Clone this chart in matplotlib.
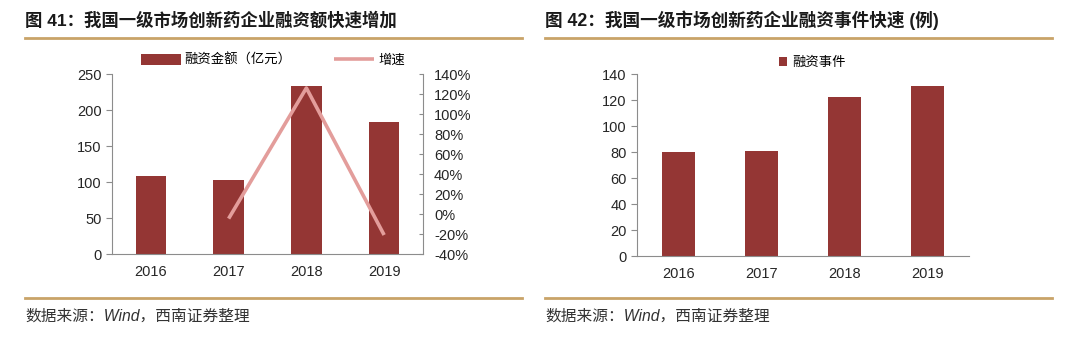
import numpy as np
import matplotlib
matplotlib.use("Agg")
import matplotlib.pyplot as plt
from matplotlib.lines import Line2D
from matplotlib.ticker import FuncFormatter

plt.rcParams['font.family'] = ['Liberation Sans', 'Noto Sans CJK SC', 'DejaVu Sans']

years = ['2016', '2017', '2018', '2019']
amount = [108, 103, 233, 184]            # 融资金额（亿元）
growth = [np.nan, -4.6, 126, -21]        # 增速 (%)
events = [80, 81, 122, 131]              # 融资事件

left_ticks = [0, 50, 100, 150, 200, 250]
right_ticks = [-40, -20, 0, 20, 40, 60, 80, 100, 120, 140]
event_ticks = [0, 20, 40, 60, 80, 100, 120, 140]

BAR = '#943634'
LINE = '#E39D9B'
GOLD = '#C9A368'
SPINE = '#8C8C8C'
TXT = '#262626'

W, H = 1080, 340
fig = plt.figure(figsize=(W / 100, H / 100), dpi=100)
fig.patch.set_facecolor('white')

def fx(px):
    return px / W

def fy(py):
    return 1 - py / H

# Titles
fig.text(fx(25), fy(20), '图 41：我国一级市场创新药企业融资额快速增加', fontsize=12.5,
         fontweight='bold', color='#1a1a1a', va='center', ha='left')
fig.text(fx(545), fy(20), '图 42：我国一级市场创新药企业融资事件快速 (例)', fontsize=12.7,
         fontweight='bold', color='#1a1a1a', va='center', ha='left')

# Gold separator lines
for (x0, x1) in [(25, 522), (545, 1052)]:
    for yy in (37.5, 297.5):
        fig.add_artist(Line2D([fx(x0), fx(x1)], [fy(yy), fy(yy)], color=GOLD, lw=2.0,
                              transform=fig.transFigure))

# Footnotes
fig.text(fx(25), fy(316), '数据来源：Wind，西南证券整理', fontsize=11.3, style='italic',
         color='#333333', va='center', ha='left')
fig.text(fx(545), fy(316), '数据来源：Wind，西南证券整理', fontsize=11.3, style='italic',
         color='#333333', va='center', ha='left')

x = np.arange(len(years))

# ---- Left chart ----
ax1 = fig.add_axes([fx(112), fy(254), fx(423) - fx(112), fy(74) - fy(254)])
b1 = ax1.bar(x, amount, width=0.39, color=BAR, label='融资金额（亿元）', zorder=2)
ax1.set_xlim(-0.5, 3.5)
ax1.set_ylim(0, 250)
ax1.set_yticks(left_ticks)
ax1.set_xticks(x)
ax1.set_xticklabels(years)
for s in ['top', 'right']:
    ax1.spines[s].set_visible(False)
for s in ['left', 'bottom']:
    ax1.spines[s].set_color(SPINE)
ax1.tick_params(axis='y', colors=SPINE, labelcolor=TXT, labelsize=10.5, length=4, direction='out')
ax1.tick_params(axis='x', length=0, labelsize=10.5, labelcolor=TXT, pad=8)

ax2 = ax1.twinx()
l1, = ax2.plot(x, growth, color=LINE, lw=2.6, label='增速', zorder=3, solid_capstyle='butt')
ax2.set_ylim(-40, 140)
ax2.set_yticks(right_ticks)
ax2.yaxis.set_major_formatter(FuncFormatter(lambda v, p: f'{int(v)}%'))
for s in ['top', 'left', 'bottom']:
    ax2.spines[s].set_visible(False)
ax2.spines['right'].set_color(SPINE)
ax2.tick_params(axis='y', colors=SPINE, labelcolor=TXT, labelsize=10.5, length=3,
                direction='in', pad=8)

fig.legend([b1, l1], ['融资金额（亿元）', '增速'], loc='center',
           bbox_to_anchor=(fx(273), fy(60)), ncol=2, frameon=False,
           handlelength=3.0, handleheight=0.9, columnspacing=3.2, handletextpad=0.3,
           prop={'family': ['Noto Sans CJK SC'], 'size': 9.6})

# ---- Right chart ----
ax3 = fig.add_axes([fx(637), fy(256), fx(969) - fx(637), fy(74) - fy(256)])
b3 = ax3.bar(x, events, width=0.39, color=BAR, label='融资事件', zorder=2)
ax3.set_xlim(-0.5, 3.5)
ax3.set_ylim(0, 140)
ax3.set_yticks(event_ticks)
ax3.set_xticks(x)
ax3.set_xticklabels(years)
for s in ['top', 'right']:
    ax3.spines[s].set_visible(False)
for s in ['left', 'bottom']:
    ax3.spines[s].set_color(SPINE)
ax3.tick_params(axis='y', colors=SPINE, labelcolor=TXT, labelsize=10.5, length=4, direction='out')
ax3.tick_params(axis='x', length=0, labelsize=10.5, labelcolor=TXT, pad=8)

fig.legend([b3], ['融资事件'], loc='center', bbox_to_anchor=(fx(812), fy(62)),
           frameon=False, handlelength=0.6, handleheight=0.6, handletextpad=0.4,
           prop={'family': ['Noto Sans CJK SC'], 'size': 9.6})

fig.savefig('out.png', dpi=100, facecolor='white')
